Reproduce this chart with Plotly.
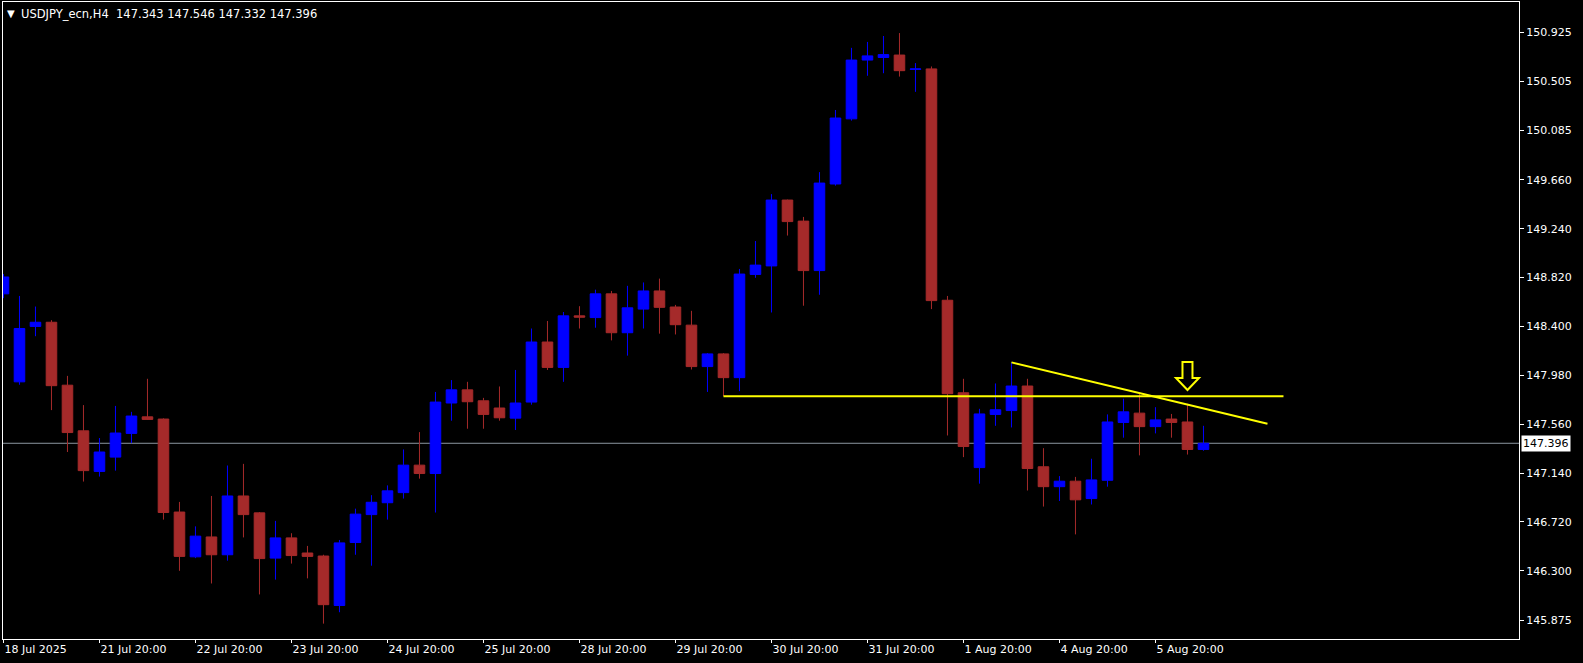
import plotly.graph_objects as go

# ---- data (USDJPY H4 candles) ----
bar_index = list(range(76))
open_ = [148.680, 147.924, 148.400, 148.436, 147.895, 147.503, 147.154, 147.277, 147.481, 147.623,
         147.604, 146.805, 146.420, 146.591, 146.438, 146.943, 146.798, 146.409, 146.583, 146.453,
         146.427, 146.002, 146.543, 146.783, 146.885, 146.972, 147.208, 147.136, 147.742, 147.855,
         147.761, 147.699, 147.612, 147.750, 148.266, 148.048, 148.491, 148.476, 148.680, 148.346,
         148.549, 148.705, 148.567, 148.411, 148.055, 148.164, 147.960, 148.847, 148.920, 149.486,
         149.305, 148.880, 149.624, 150.184, 150.689, 150.711, 150.732, 150.609, 150.613, 148.625,
         147.830, 147.187, 147.644, 147.677, 147.888, 147.194, 147.023, 147.070, 146.921, 147.078,
         147.575, 147.655, 147.539, 147.604, 147.579, 147.343]
high = [148.850, 148.662, 148.571, 148.454, 147.975, 147.724, 147.441, 147.717, 147.666, 147.950,
        147.610, 146.892, 146.682, 146.943, 147.205, 147.219, 146.805, 146.729, 146.623, 146.514,
        146.438, 146.565, 146.834, 146.950, 147.034, 147.343, 147.492, 147.837, 147.939, 147.924,
        147.786, 147.884, 148.026, 148.382, 148.447, 148.524, 148.574, 148.716, 148.705, 148.749,
        148.778, 148.811, 148.585, 148.534, 148.171, 148.171, 148.894, 149.134, 149.537, 149.490,
        149.341, 149.726, 150.260, 150.794, 150.845, 150.896, 150.921, 150.663, 150.634, 148.662,
        147.950, 147.692, 147.910, 148.091, 147.950, 147.354, 147.114, 147.107, 147.263, 147.644,
        147.779, 147.826, 147.706, 147.648, 147.735, 147.546]
low = [148.643, 147.899, 148.316, 147.681, 147.321, 147.067, 147.110, 147.161, 147.397, 147.597,
       146.740, 146.300, 146.409, 146.191, 146.387, 146.587, 146.097, 146.224, 146.362, 146.235,
       145.846, 145.944, 146.438, 146.344, 146.740, 146.921, 147.092, 146.801, 147.590, 147.521,
       147.521, 147.590, 147.510, 147.728, 148.026, 147.924, 148.382, 148.389, 148.280, 148.149,
       148.382, 148.338, 148.331, 148.030, 147.837, 147.801, 147.844, 148.818, 148.520, 149.181,
       148.578, 148.672, 149.610, 150.169, 150.554, 150.576, 150.547, 150.416, 148.549, 147.463,
       147.277, 147.049, 147.546, 147.532, 146.990, 146.852, 146.900, 146.613, 146.870, 147.023,
       147.444, 147.292, 147.481, 147.444, 147.299, 147.332]
close = [148.825, 148.382, 148.436, 147.891, 147.488, 147.161, 147.321, 147.484, 147.630, 147.601,
         146.801, 146.424, 146.598, 146.438, 146.943, 146.783, 146.405, 146.583, 146.431, 146.424,
         146.009, 146.540, 146.787, 146.889, 146.987, 147.208, 147.136, 147.750, 147.855, 147.753,
         147.644, 147.615, 147.742, 148.266, 148.048, 148.491, 148.480, 148.680, 148.346, 148.560,
         148.705, 148.564, 148.415, 148.055, 148.164, 147.960, 148.850, 148.927, 149.486, 149.301,
         148.880, 149.632, 150.191, 150.689, 150.725, 150.736, 150.598, 150.613, 148.622, 147.822,
         147.368, 147.648, 147.684, 147.888, 147.179, 147.023, 147.070, 146.910, 147.081, 147.579,
         147.666, 147.539, 147.597, 147.575, 147.343, 147.396]

date_tick_index = [0, 6, 12, 18, 24, 30, 36, 42, 48, 54, 60, 66, 72]
date_tick_text = ["18 Jul 2025", "21 Jul 20:00", "22 Jul 20:00", "23 Jul 20:00", "24 Jul 20:00",
                  "25 Jul 20:00", "28 Jul 20:00", "29 Jul 20:00", "30 Jul 20:00", "31 Jul 20:00",
                  "1 Aug 20:00", "4 Aug 20:00", "5 Aug 20:00"]
price_ticks = [150.925, 150.505, 150.085, 149.660, 149.240, 148.820, 148.400,
               147.980, 147.560, 147.140, 146.720, 146.300, 145.875]
price_tick_text = ["150.925", "150.505", "150.085", "149.660", "149.240", "148.820", "148.400",
                   "147.980", "147.560", "147.140", "146.720", "146.300", "145.875"]

support_level = 147.80
support_from, support_to = 45, 80
trend_index = [63, 79]
trend_price = [148.091, 147.564]
arrow_index, arrow_price = 74, 147.854
last_price = 147.396
header = "USDJPY_ecn,H4\u00a0\u00a0147.343 147.546 147.332 147.396"

FONT = "DejaVu Sans"
BULL = "#0000FF"
BEAR = "#A52A2A"

fig = go.Figure()
fig.add_trace(go.Candlestick(
    x=bar_index, open=open_, high=high, low=low, close=close,
    increasing=dict(line=dict(color=BULL, width=1), fillcolor=BULL),
    decreasing=dict(line=dict(color=BEAR, width=1), fillcolor=BEAR),
    whiskerwidth=0, hoverinfo="skip", showlegend=False,
))

# support line
fig.add_trace(go.Scatter(x=[support_from, support_to], y=[support_level, support_level],
                         mode="lines", line=dict(color="#FFFF00", width=2),
                         hoverinfo="skip", showlegend=False))
# trend line
fig.add_trace(go.Scatter(x=trend_index, y=trend_price, mode="lines",
                         line=dict(color="#FFFF00", width=2),
                         hoverinfo="skip", showlegend=False))

# current price line
fig.add_shape(type="line", xref="paper", x0=0, x1=1, yref="y", y0=last_price, y1=last_price,
              line=dict(color="#8C96A0", width=1), layer="below")

# down arrow marker
fig.add_shape(type="path", xref="x", yref="y", xsizemode="pixel", ysizemode="pixel",
              xanchor=arrow_index, yanchor=arrow_price,
              path="M 0 0 L -11.5 12 L -5 12 L -5 28 L 5 28 L 5 12 L 11.5 12 Z",
              line=dict(color="#FFFF00", width=2), fillcolor="#000000")

fig.add_annotation(xref="paper", yref="y", x=1, y=last_price, text=str(last_price),
                   showarrow=False, xanchor="left", yanchor="middle", xshift=2,
                   bgcolor="#FFFFFF", borderpad=1,
                   font=dict(family=FONT, size=11, color="#000000"))

fig.add_annotation(xref="paper", yref="paper", x=0, y=1, text="\u25BC",
                   showarrow=False, xanchor="left", yanchor="top", xshift=2, yshift=-4,
                   font=dict(family=FONT, size=10, color="#FFFFFF"))
fig.add_annotation(xref="paper", yref="paper", x=0, y=1, text=header,
                   showarrow=False, xanchor="left", yanchor="top", xshift=16, yshift=-3,
                   font=dict(family=FONT, size=11.5, color="#FFFFFF"))

fig.update_layout(
    width=1583, height=663,
    margin=dict(l=3, r=64, t=2, b=24),
    paper_bgcolor="#000000", plot_bgcolor="#000000",
    boxgap=0.34, boxgroupgap=0,
    font=dict(family=FONT, size=11, color="#FFFFFF"),
    xaxis=dict(range=[-0.03, 94.72], rangeslider=dict(visible=False),
               showgrid=False, zeroline=False, showline=True, mirror=True,
               linecolor="#FFFFFF", linewidth=1,
               ticks="outside", ticklen=3, tickcolor="#FFFFFF",
               tickvals=date_tick_index, ticktext=date_tick_text,
               ticklabelposition="outside right",
               tickfont=dict(family=FONT, size=11, color="#FFFFFF")),
    yaxis=dict(range=[145.714, 151.188], side="right",
               showgrid=False, zeroline=False, showline=True, mirror=True,
               linecolor="#FFFFFF", linewidth=1,
               ticks="outside", ticklen=4, tickcolor="#FFFFFF",
               tickvals=price_ticks, ticktext=price_tick_text,
               tickfont=dict(family=FONT, size=11, color="#FFFFFF")),
)

fig.write_html("out.html", config={"displayModeBar": False},
               post_script="document.body.style.margin='0';document.body.style.overflow='hidden';document.body.style.background='#000';")
